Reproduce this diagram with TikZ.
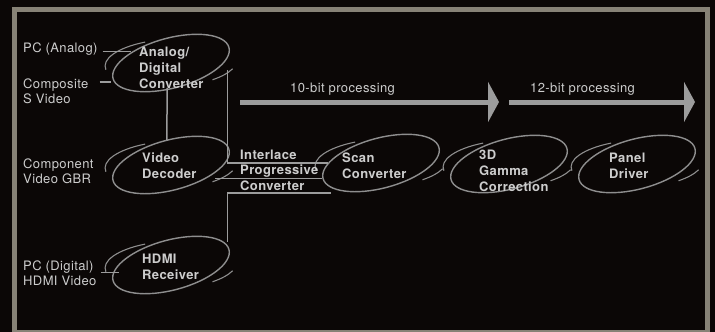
\documentclass[tikz,border=0pt]{standalone}
\usepackage{fontspec}
\setmainfont{TeX Gyre Heros}[LetterSpace=3]
\usetikzlibrary{shapes.geometric,arrows.meta}
\definecolor{bgblack}{HTML}{0B0706}
\definecolor{framegray}{HTML}{878276}
\definecolor{wiregray}{HTML}{9C9C9C}
\definecolor{ringgray}{HTML}{8E8E8E}
\definecolor{labelgray}{HTML}{CDCDCD}
\tikzset{
  every node/.style={inner sep=0pt, text=labelgray},
  ring/.style={ellipse, draw=ringgray, line width=1.4pt, rotate=15,
    minimum width=120pt, minimum height=50pt},
  block/.style={anchor=base west, align=left,
    font=\fontsize{13}{15.8}\selectfont\bfseries},
  source/.style={anchor=base west, align=left,
    font=\fontsize{13}{15.8}\selectfont},
  wire/.style={draw=wiregray, line width=1.5pt},
  bigarrow/.style={draw=wiregray, line width=5pt,
    -{Triangle[length=11pt,width=40pt]}},
}
\newcommand\sketchring[1]{%
  \begin{scope}[shift={(#1.center)}, rotate=3]
    \draw[ringgray, line width=1.1pt] (112:66 and 24)
      arc[start angle=112, end angle=188, x radius=66, y radius=24];
    \draw[ringgray, line width=1.1pt] (-52:66 and 24)
      arc[start angle=-52, end angle=-22, x radius=66, y radius=24];
  \end{scope}}
\begin{document}
\begin{tikzpicture}[x=1pt, y=1pt]
\fill[bgblack] (0,0) rectangle (715,-332);
\useasboundingbox (0,0) rectangle (715,-332);
\draw[framegray, line width=5pt] (14.7,-9.2) rectangle (707.5,-332);
% rings
\node[ring] (ad) at (171,-63) {};
\node[ring] (vd) at (171,-165) {};
\node[ring] (hdmi) at (171,-265) {};
\node[ring] (scan) at (381,-163) {};
\node[ring] (gamma) at (509,-164) {};
\node[ring] (panel) at (637,-164) {};
\foreach \r in {ad,vd,hdmi,scan,gamma,panel} {\sketchring{\r}}
% inputs (anchored at the last baseline)
\node[source] (pca) at (23,-52.7) {PC (Analog)};
\node[source] (comp) at (23,-103.9) {Composite\\S Video};
\node[source] (cmpn) at (23,-183.9) {Component\\Video GBR};
\node[source] (pcd) at (23,-285.8) {PC (Digital)\\HDMI Video};
% blocks
\node[block] (adt) at (139,-88.2) {Analog/\\Digital\\Converter};
\node[block] (vdt) at (142,-178.5) {Video\\Decoder};
\node[block] (hdmit) at (142,-279.7) {HDMI\\Receiver};
\node[block] (ipct) at (240,-190.7) {Interlace\\Progressive\\Converter};
\node[block] (scant) at (342,-178.2) {Scan\\Converter};
\node[block] (gammat) at (479,-191) {3D\\Gamma\\Correction};
\node[block] (panelt) at (609,-178.2) {Panel\\Driver};
% processing arrows
\node[source] (bit10) at (290,-92.3) {10-bit processing};
\node[source] (bit12) at (530,-92.3) {12-bit processing};
\coordinate (a10) at (240,-102);
\coordinate (b10) at (499,-102);
\coordinate (a12) at (509,-102);
\coordinate (b12) at (695,-102);
\draw[bigarrow] (a10) -- (b10);
\draw[bigarrow] (a12) -- (b12);
% wires
\draw[wire] ([shift={(5,1)}]pca.base east) -- ++(28,0);
\draw[wire] ([shift={(11,21.9)}]comp.base east) -- ++(11,0);
\draw[wire] ([shift={(4.3,13.1)}]pcd.base east) -- ++(18,0);
\draw[wire] ([xshift=-10.5]ad.south) -- ([xshift=2.5]vd.north);
\draw[wire] ([shift={(-2,-22.5)}]ad.east) |- (scan);
\draw[wire] (scan.west) -- ++(-107,0);
\draw[wire] ([shift={(-2,7.5)}]hdmi.east) |- ++(103,48.7);
\end{tikzpicture}
\end{document}
